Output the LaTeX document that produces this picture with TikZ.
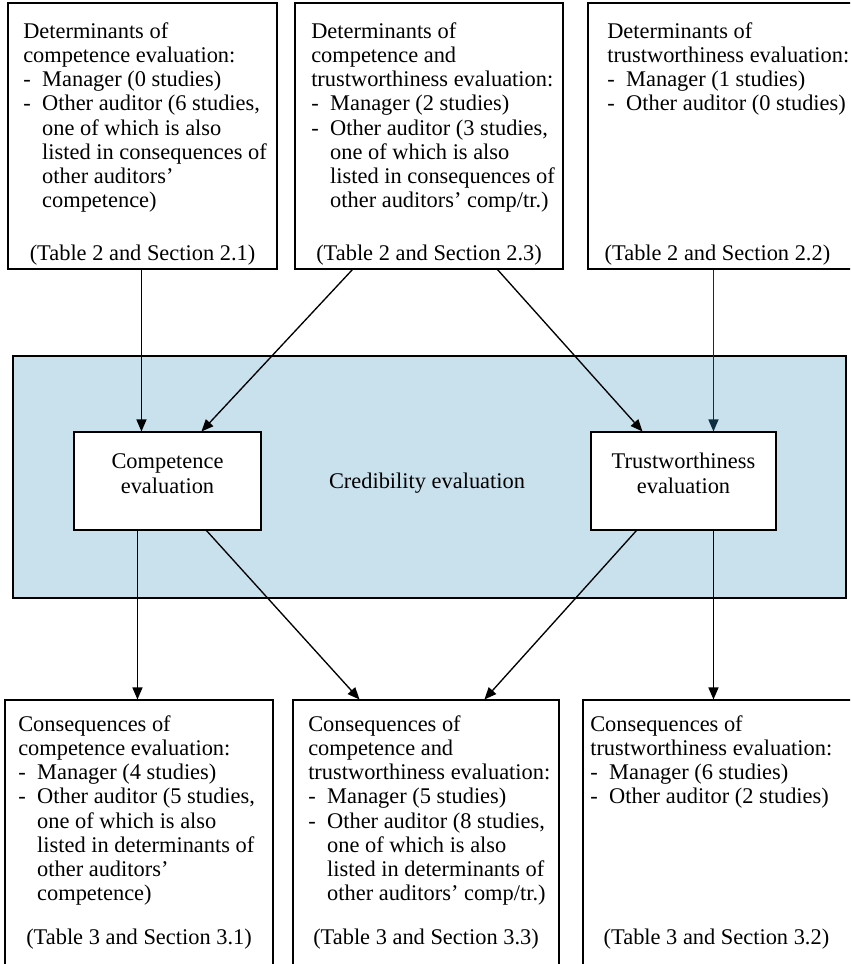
\documentclass[tikz,border=0pt]{standalone}
\usepackage{fontspec}
\setmainfont{Liberation Serif}
\usepackage{xcolor}
\usepackage{tikz}
\usetikzlibrary{arrows.meta,calc,fit}

\definecolor{credblue}{RGB}{201,224,237}
\definecolor{darkteal}{RGB}{14,46,64}

\newcommand{\dashitem}{\makebox[14.2pt][l]{-}}
\newcommand{\hangline}{\hspace*{14.2pt}}

\begin{document}
\begin{tikzpicture}[x=0.75pt,y=0.75pt,yscale=-1,xscale=1,
  font=\fontsize{16.8}{18.2}\selectfont,
  box/.style={draw, line width=0.8pt, inner sep=0pt},
  txt/.style={anchor=north west, inner sep=0pt, align=left},
  tab/.style={anchor=base, inner sep=0pt},
  arr/.style={line width=1pt, -{Triangle[length=9pt,width=7.5pt]}}]

\useasboundingbox (0,0) rectangle (850,964);
\clip (0,0) rectangle (850,964);

% credibility evaluation
\node [box, fill=credblue, fit={(13,356) (846,598)}] (cred) {};
\node (credlbl) at (427,483) {Credibility evaluation};

\node [box, fill=white, fit={(74,432) (261,530)}, align=center] (comp) {Competence\\evaluation};
\node [box, fill=white, fit={(591,432) (776,530)}, align=center] (trust) {Trustworthiness\\evaluation};

% determinants
\node [box, fit={(8,3) (277,269)}] (dcomp) {};
\node [box, fit={(295,3) (563,269)}] (dboth) {};
\node [box, fit={(588,3) (862,269)}] (dtrust) {};

\node [txt] (dcomptxt) at (23,22) {Determinants of\\competence evaluation:\\\dashitem Manager (0 studies)\\\dashitem Other auditor (6 studies,\\\hangline one of which is also\\\hangline listed in consequences of\\\hangline other auditors’\\\hangline competence)};
\node [txt] (dbothtxt) at (311,22) {Determinants of\\competence and\\trustworthiness evaluation:\\\dashitem Manager (2 studies)\\\dashitem Other auditor (3 studies,\\\hangline one of which is also\\\hangline listed in consequences of\\\hangline other auditors’ comp/tr.)};
\node [txt] (dtrusttxt) at (607,22) {Determinants of\\trustworthiness evaluation:\\\dashitem Manager (1 studies)\\\dashitem Other auditor (0 studies)};

\node [tab] (dcomptab) at ($(dcomp.south)+(0,-9)$) {(Table 2 and Section 2.1)};
\node [tab] (dbothtab) at ($(dboth.south)+(0,-9)$) {(Table 2 and Section 2.3)};
\node [tab] (dtrusttab) at ($(dtrust.south west)+(130,-9)$) {(Table 2 and Section 2.2)};

% consequences
\node [box, fit={(5,700) (273,990)}] (ccomp) {};
\node [box, fit={(293,700) (559,990)}] (cboth) {};
\node [box, fit={(583,700) (862,990)}] (ctrust) {};

\node [txt] (ccomptxt) at (18,715) {Consequences of\\competence evaluation:\\\dashitem Manager (4 studies)\\\dashitem Other auditor (5 studies,\\\hangline one of which is also\\\hangline listed in determinants of\\\hangline other auditors’\\\hangline competence)};
\node [txt] (cbothtxt) at (308,715) {Consequences of\\competence and\\trustworthiness evaluation:\\\dashitem Manager (5 studies)\\\dashitem Other auditor (8 studies,\\\hangline one of which is also\\\hangline listed in determinants of\\\hangline other auditors’ comp/tr.)};
\node [txt] (ctrusttxt) at (590,715) {Consequences of\\trustworthiness evaluation:\\\dashitem Manager (6 studies)\\\dashitem Other auditor (2 studies)};

\node [tab] (ccomptab) at ($(ccomp.north)+(0,245)$) {(Table 3 and Section 3.1)};
\node [tab] (cbothtab) at ($(cboth.north)+(0,245)$) {(Table 3 and Section 3.3)};
\node [tab] (ctrusttab) at ($(ctrust.north west)+(134,245)$) {(Table 3 and Section 3.2)};

% arrows in
\draw [arr] ($(dcomp.south west)+(134,0)$) -- ($(comp.north west)+(68,0)$);
\draw [arr] ($(dboth.south west)+(58,0)$) -- ($(comp.north west)+(128,0)$);
\draw [arr] ($(dboth.south west)+(203,0)$) -- ($(trust.north west)+(52,0)$);
\draw [arr, darkteal] ($(dtrust.south west)+(126,0)$) -- ($(trust.north west)+(123,0)$);

% arrows out
\draw [arr] ($(comp.south west)+(64,0)$) -- ($(ccomp.north west)+(133,0)$);
\draw [arr] ($(comp.south west)+(133,0)$) -- ($(cboth.north west)+(67,0)$);
\draw [arr] ($(trust.south west)+(46,0)$) -- ($(cboth.north west)+(192,0)$);
\draw [arr] ($(trust.south west)+(123,0)$) -- ($(ctrust.north west)+(131,0)$);

\end{tikzpicture}
\end{document}
